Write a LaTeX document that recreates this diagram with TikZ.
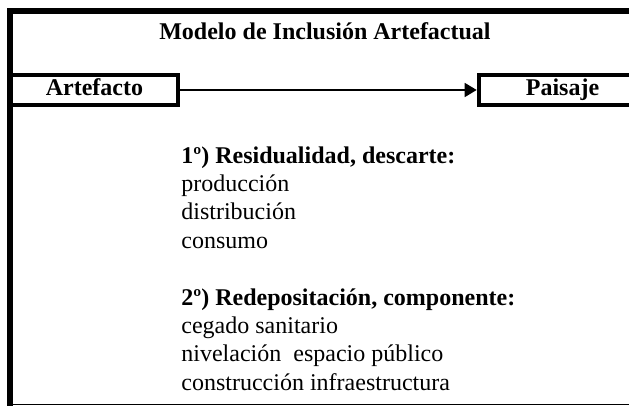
\documentclass[tikz,border=0pt]{standalone}
\usepackage{fontspec}
\setmainfont{Liberation Serif}
\usetikzlibrary{arrows.meta}
\tikzset{
  caja/.style={draw, line width=2.3pt, minimum width=83.5pt, minimum height=15pt, inner sep=0pt, text height=.7em, text depth=.22em, font=\bfseries},
  lista/.style={anchor=north west, align=left, inner sep=0pt},
}
\begin{document}
\fontsize{12}{14.2}\selectfont
\begin{tikzpicture}[x=0.5pt, y=-0.5pt]
      \useasboundingbox (0,0) rectangle (629,406);
      \draw[line width=3pt](629,11.5) to (10.5,11.5) to (10.5,406);
      \draw[line width=.75pt](10.5,404.5) to (629,404.5);
      \node at(325,31)(titulo){\textbf{Modelo de Inclusión Artefactual}};
      \node[caja] at(94.5,90)(artefacto){Artefacto};
      \node[caja] at(562.5,90)(paisaje){Paisaje};
      \draw[line width=.75pt, -{Triangle[length=6pt, width=7pt]}](artefacto) to (paisaje);
      \node[lista] at(181,146)(residual){\textbf{1º) Residualidad, descarte:}\\producción\\distribución\\consumo};
      \node[lista] at(181,288)(redeposito){\textbf{2º) Redepositación, componente:}\\cegado sanitario\\nivelación\ \ espacio público\\construcción infraestructura};
\end{tikzpicture}
\end{document}
